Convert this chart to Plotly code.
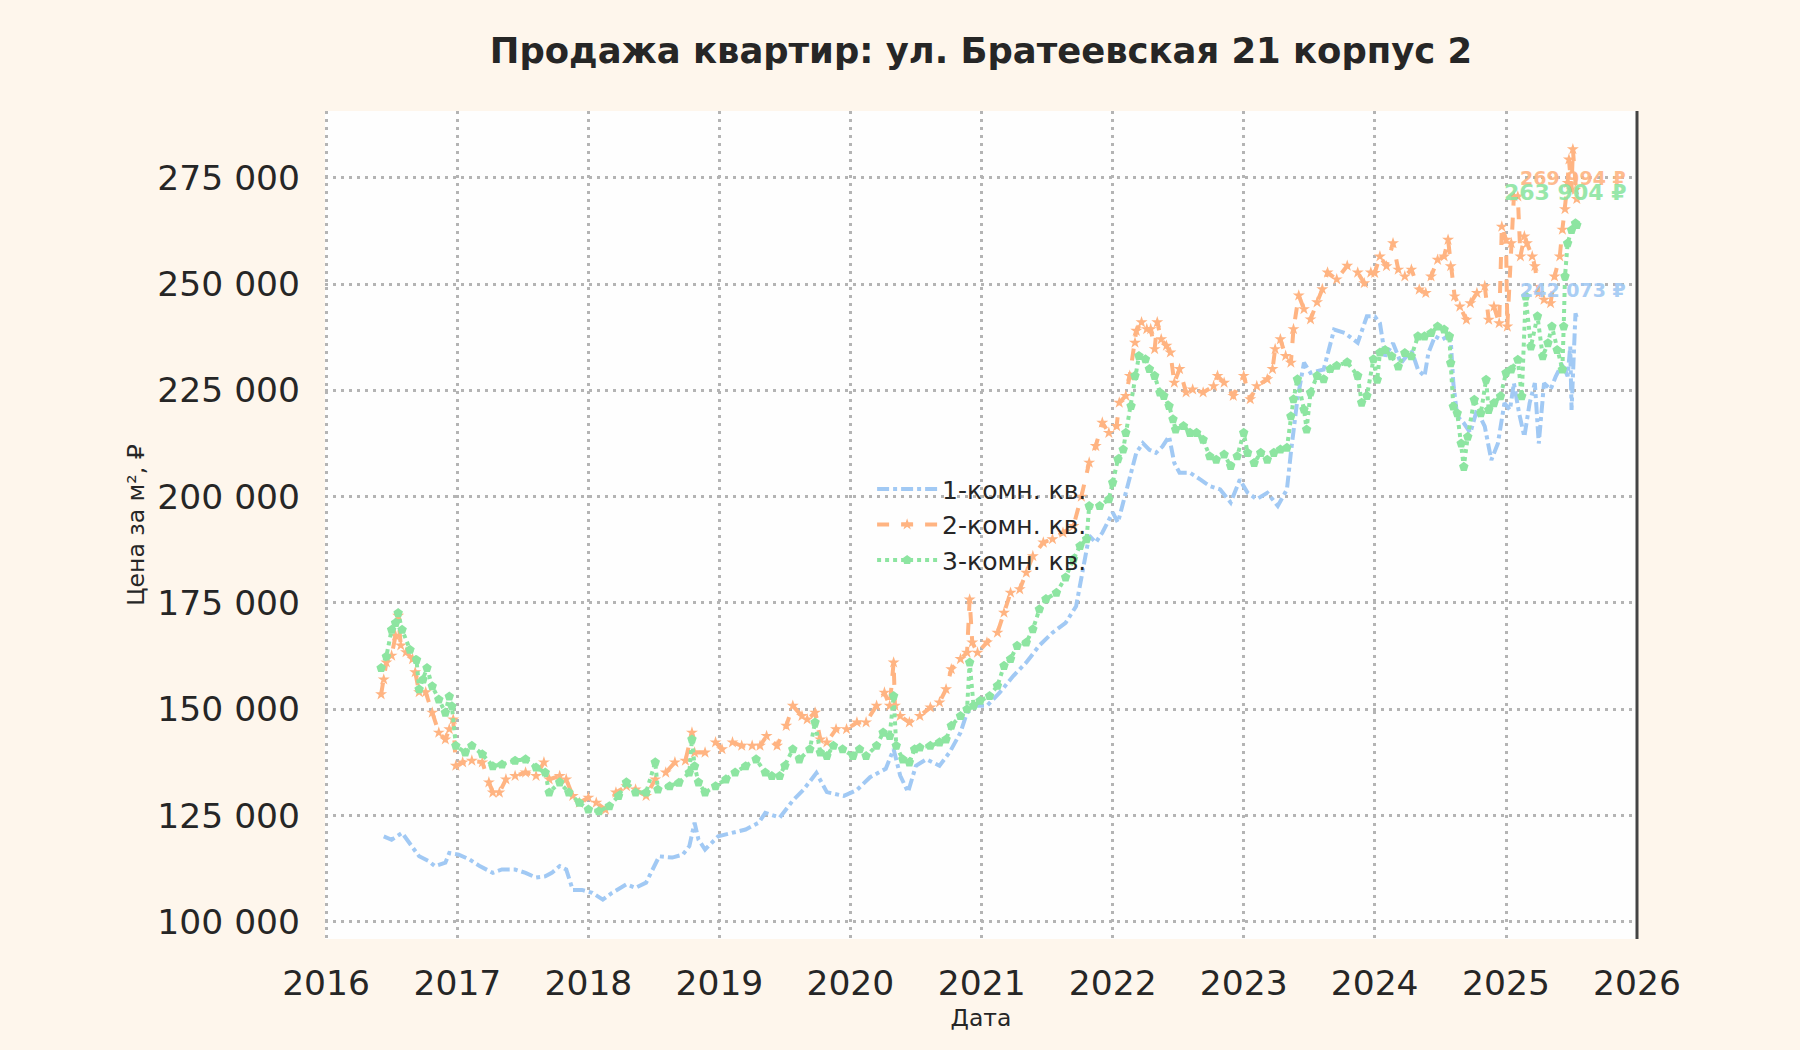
import pandas as pd
import plotly.graph_objects as go

# --- data (year as decimal, price in thousands of rubles) ---
years_1k = [2016.44, 2016.50, 2016.58, 2016.64, 2016.71, 2016.78, 2016.83, 2016.91, 2016.94, 2017.01,
            2017.09, 2017.17, 2017.27, 2017.34, 2017.44, 2017.52, 2017.60, 2017.67, 2017.72, 2017.78,
            2017.83, 2017.88, 2017.95, 2018.03, 2018.11, 2018.18, 2018.29, 2018.36, 2018.44, 2018.49,
            2018.54, 2018.64, 2018.72, 2018.77, 2018.81, 2018.84, 2018.89, 2018.99, 2019.10, 2019.20,
            2019.30, 2019.35, 2019.46, 2019.56, 2019.64, 2019.74, 2019.82, 2019.95, 2020.05, 2020.15,
            2020.27, 2020.33, 2020.38, 2020.44, 2020.50, 2020.58, 2020.68, 2020.76, 2020.84, 2020.89,
            2020.96, 2021.04, 2021.14, 2021.24, 2021.34, 2021.44, 2021.54, 2021.64, 2021.72, 2021.77,
            2021.82, 2021.87, 2021.92, 2022.00, 2022.04, 2022.08, 2022.13, 2022.18, 2022.23, 2022.28,
            2022.33, 2022.38, 2022.43, 2022.47, 2022.51, 2022.59, 2022.67, 2022.74, 2022.82, 2022.90,
            2022.97, 2023.03, 2023.10, 2023.18, 2023.26, 2023.33, 2023.36, 2023.41, 2023.46, 2023.51,
            2023.61, 2023.69, 2023.77, 2023.87, 2023.94, 2024.00, 2024.04, 2024.08, 2024.14, 2024.20,
            2024.28, 2024.33, 2024.38, 2024.41, 2024.46, 2024.51, 2024.56, 2024.58, 2024.60, 2024.63,
            2024.68, 2024.73, 2024.78, 2024.84, 2024.89, 2024.94, 2024.99, 2025.03, 2025.06, 2025.10,
            2025.14, 2025.18, 2025.22, 2025.25, 2025.29, 2025.34, 2025.38, 2025.43, 2025.47, 2025.49,
            2025.50, 2025.53, 2025.54]
price_1k = [120.1, 119.3, 120.9, 118.5, 115.4, 114.3, 113.1, 113.9, 116.2, 115.8,
            114.7, 113.1, 111.5, 112.3, 112.3, 111.5, 110.4, 110.7, 111.5, 113.1,
            112.3, 107.5, 107.5, 106.8, 105.2, 106.8, 108.8, 108.0, 109.2, 112.3,
            115.4, 115.1, 115.8, 117.8, 123.3, 119.3, 117.0, 120.1, 120.9, 121.7,
            123.3, 125.6, 124.5, 128.5, 131.0, 135.0, 130.5, 129.6, 131.0, 134.0,
            136.0, 140.6, 134.4, 130.5, 136.7, 138.2, 136.7, 140.0, 144.5, 149.2,
            150.8, 150.8, 154.0, 157.8, 161.0, 165.0, 168.0, 170.3, 174.2, 182.9,
            190.8, 189.2, 191.5, 196.3, 193.9, 198.6, 204.8, 210.3, 212.6, 211.0,
            210.3, 211.8, 214.2, 207.9, 205.6, 205.6, 204.0, 202.5, 201.7, 198.6,
            204.0, 200.9, 199.4, 200.9, 197.8, 201.7, 210.3, 222.9, 231.5, 229.1,
            229.9, 239.3, 238.5, 236.2, 242.4, 242.4, 240.8, 233.0, 236.1, 231.4,
            234.5, 229.9, 228.3, 233.8, 237.7, 236.9, 237.7, 236.9, 226.7, 218.9,
            217.3, 215.0, 220.4, 216.5, 208.6, 212.5, 222.0, 220.4, 226.7, 219.6,
            214.1, 222.0, 226.7, 212.5, 226.7, 225.2, 228.3, 231.4, 228.3, 235.3,
            220.4, 243.1, 242.1]

years_2k = [2016.42, 2016.44, 2016.46, 2016.50, 2016.53, 2016.55, 2016.57, 2016.61, 2016.66, 2016.68,
            2016.71, 2016.76, 2016.81, 2016.86, 2016.91, 2016.94, 2016.97, 2016.99, 2017.04, 2017.11,
            2017.19, 2017.24, 2017.27, 2017.32, 2017.37, 2017.44, 2017.52, 2017.60, 2017.66, 2017.70,
            2017.78, 2017.83, 2017.88, 2017.93, 2018.00, 2018.06, 2018.13, 2018.21, 2018.29, 2018.36,
            2018.44, 2018.51, 2018.59, 2018.66, 2018.74, 2018.79, 2018.81, 2018.89, 2018.97, 2019.02,
            2019.10, 2019.17, 2019.25, 2019.31, 2019.36, 2019.44, 2019.51, 2019.56, 2019.63, 2019.67,
            2019.73, 2019.77, 2019.82, 2019.89, 2019.97, 2020.05, 2020.12, 2020.20, 2020.26, 2020.30,
            2020.33, 2020.34, 2020.38, 2020.45, 2020.53, 2020.61, 2020.68, 2020.73, 2020.77, 2020.84,
            2020.89, 2020.91, 2020.93, 2020.97, 2021.04, 2021.12, 2021.17, 2021.22, 2021.29, 2021.34,
            2021.39, 2021.47, 2021.54, 2021.62, 2021.70, 2021.76, 2021.82, 2021.87, 2021.92, 2021.97,
            2022.03, 2022.05, 2022.10, 2022.13, 2022.17, 2022.18, 2022.22, 2022.26, 2022.29, 2022.32,
            2022.34, 2022.37, 2022.41, 2022.44, 2022.47, 2022.51, 2022.56, 2022.61, 2022.69, 2022.77,
            2022.80, 2022.85, 2022.92, 2023.00, 2023.05, 2023.10, 2023.18, 2023.22, 2023.24, 2023.28,
            2023.32, 2023.36, 2023.38, 2023.42, 2023.46, 2023.51, 2023.56, 2023.60, 2023.64, 2023.71,
            2023.79, 2023.87, 2023.92, 2023.97, 2024.00, 2024.04, 2024.09, 2024.14, 2024.18, 2024.23,
            2024.28, 2024.34, 2024.39, 2024.43, 2024.48, 2024.53, 2024.56, 2024.58, 2024.61, 2024.65,
            2024.70, 2024.73, 2024.78, 2024.84, 2024.87, 2024.91, 2024.95, 2024.97, 2025.00, 2025.01,
            2025.04, 2025.06, 2025.09, 2025.11, 2025.14, 2025.16, 2025.20, 2025.22, 2025.25, 2025.29,
            2025.34, 2025.37, 2025.41, 2025.43, 2025.45, 2025.47, 2025.48, 2025.50, 2025.51, 2025.53,
            2025.54]
price_2k = [153.5, 157.0, 161.0, 162.6, 167.3, 172.0, 165.0, 163.4, 161.8, 158.7,
            154.0, 154.0, 149.2, 144.5, 142.9, 145.3, 147.6, 136.7, 137.5, 137.9,
            137.5, 132.8, 130.4, 130.4, 133.5, 134.3, 135.1, 134.3, 137.5, 133.5,
            134.3, 133.5, 129.6, 128.0, 129.2, 128.0, 126.4, 130.4, 131.9, 131.1,
            129.6, 133.5, 135.1, 137.5, 137.9, 144.5, 139.8, 139.8, 142.2, 140.6,
            142.2, 141.4, 141.4, 141.4, 143.7, 141.4, 146.1, 150.8, 148.4, 147.6,
            149.2, 142.9, 142.2, 145.3, 145.3, 146.9, 146.9, 150.8, 153.9, 150.8,
            161.0, 150.8, 148.4, 146.9, 148.4, 150.4, 151.6, 154.7, 159.4, 161.8,
            163.3, 175.8, 165.7, 163.3, 165.7, 168.0, 172.7, 177.4, 178.2, 182.1,
            186.0, 189.2, 190.0, 191.5, 193.1, 200.0, 208.0, 211.9, 217.4, 215.0,
            216.6, 222.1, 223.7, 228.4, 236.2, 239.0, 241.0, 239.4, 239.4, 234.7,
            241.0, 237.0, 235.5, 233.9, 226.8, 230.0, 224.5, 225.2, 224.5, 226.0,
            228.4, 226.8, 223.7, 228.4, 222.9, 226.0, 227.6, 230.0, 234.7, 237.0,
            233.1, 231.5, 239.4, 247.3, 244.1, 241.7, 245.7, 248.8, 252.7, 251.1,
            254.3, 252.7, 250.2, 252.7, 252.6, 256.5, 254.2, 259.6, 253.4, 251.8,
            253.4, 248.7, 247.9, 251.8, 255.7, 256.5, 260.4, 254.2, 247.1, 244.7,
            241.6, 245.5, 247.9, 249.5, 241.6, 244.7, 240.8, 263.5, 260.4, 240.0,
            259.6, 270.6, 270.6, 256.5, 261.2, 259.6, 256.5, 254.2, 247.9, 246.3,
            245.5, 251.8, 256.5, 262.8, 267.6, 273.8, 279.3, 272.2, 281.7, 272.2,
            270.0]

years_3k = [2016.42, 2016.46, 2016.50, 2016.53, 2016.55, 2016.58, 2016.64, 2016.69, 2016.71, 2016.74,
            2016.77, 2016.81, 2016.86, 2016.91, 2016.94, 2016.96, 2016.99, 2017.06, 2017.11, 2017.19,
            2017.27, 2017.34, 2017.44, 2017.52, 2017.60, 2017.67, 2017.70, 2017.78, 2017.85, 2017.93,
            2018.00, 2018.08, 2018.16, 2018.23, 2018.29, 2018.36, 2018.44, 2018.51, 2018.53, 2018.62,
            2018.69, 2018.77, 2018.79, 2018.81, 2018.84, 2018.89, 2018.97, 2019.05, 2019.12, 2019.20,
            2019.28, 2019.35, 2019.40, 2019.46, 2019.50, 2019.56, 2019.61, 2019.69, 2019.73, 2019.77,
            2019.82, 2019.87, 2019.94, 2020.02, 2020.07, 2020.12, 2020.20, 2020.25, 2020.30, 2020.33,
            2020.35, 2020.40, 2020.45, 2020.49, 2020.53, 2020.61, 2020.68, 2020.73, 2020.77, 2020.84,
            2020.89, 2020.91, 2020.94, 2020.99, 2021.06, 2021.12, 2021.17, 2021.22, 2021.27, 2021.34,
            2021.39, 2021.44, 2021.49, 2021.57, 2021.64, 2021.70, 2021.75, 2021.80, 2021.82, 2021.90,
            2021.97, 2022.00, 2022.04, 2022.08, 2022.10, 2022.14, 2022.17, 2022.20, 2022.25, 2022.28,
            2022.32, 2022.36, 2022.39, 2022.43, 2022.46, 2022.48, 2022.54, 2022.59, 2022.64, 2022.69,
            2022.74, 2022.79, 2022.85, 2022.90, 2022.95, 2023.00, 2023.03, 2023.08, 2023.13, 2023.18,
            2023.23, 2023.28, 2023.33, 2023.36, 2023.38, 2023.41, 2023.46, 2023.48, 2023.51, 2023.56,
            2023.61, 2023.66, 2023.71, 2023.79, 2023.87, 2023.90, 2023.94, 2023.99, 2024.02, 2024.04,
            2024.08, 2024.13, 2024.18, 2024.23, 2024.28, 2024.33, 2024.38, 2024.43, 2024.48, 2024.53,
            2024.57, 2024.58, 2024.60, 2024.63, 2024.66, 2024.68, 2024.71, 2024.76, 2024.81, 2024.85,
            2024.87, 2024.91, 2024.96, 2025.00, 2025.04, 2025.09, 2025.12, 2025.15, 2025.19, 2025.24,
            2025.28, 2025.32, 2025.35, 2025.39, 2025.43, 2025.44, 2025.45, 2025.47, 2025.50, 2025.53,
            2025.54]
price_3k = [159.7, 162.4, 168.7, 170.3, 172.6, 168.7, 164.0, 161.6, 154.7, 157.0,
            159.7, 155.4, 152.3, 149.2, 153.0, 150.7, 141.4, 139.8, 141.4, 139.4,
            136.6, 137.0, 137.9, 138.2, 136.3, 135.1, 130.4, 132.8, 130.4, 128.0,
            126.4, 126.0, 127.2, 129.6, 132.8, 130.4, 130.4, 137.5, 131.1, 131.9,
            132.7, 135.1, 142.9, 136.6, 132.8, 130.4, 131.9, 133.5, 135.1, 136.6,
            138.2, 135.1, 134.3, 134.3, 136.7, 140.6, 138.2, 140.6, 146.9, 139.8,
            139.0, 141.4, 140.6, 139.0, 140.6, 139.0, 141.4, 144.5, 143.7, 153.1,
            141.4, 138.2, 137.5, 140.6, 141.0, 141.4, 142.2, 142.9, 146.1, 148.4,
            150.0, 161.0, 150.8, 152.0, 153.1, 155.5, 160.2, 161.8, 164.9, 165.7,
            168.8, 173.5, 175.9, 177.4, 181.0, 185.3, 188.4, 190.0, 197.8, 197.8,
            199.4, 203.3, 208.8, 211.1, 215.0, 221.3, 228.4, 233.1, 232.3, 230.0,
            228.4, 224.5, 223.7, 221.3, 218.2, 215.8, 216.6, 215.0, 215.0, 213.4,
            209.5, 208.7, 209.9, 207.2, 209.5, 215.0, 210.3, 207.9, 210.3, 208.7,
            210.3, 211.1, 211.5, 218.9, 222.9, 227.6, 220.5, 215.8, 224.5, 228.4,
            227.6, 230.0, 230.8, 231.6, 228.4, 222.1, 223.7, 232.3, 227.5, 233.9,
            234.5, 233.0, 230.6, 233.8, 233.0, 237.7, 237.7, 238.5, 240.0, 239.3,
            237.7, 231.4, 221.2, 219.6, 212.5, 207.0, 214.1, 222.8, 219.6, 227.5,
            220.4, 222.0, 223.6, 229.1, 229.9, 232.2, 223.6, 247.1, 235.3, 242.4,
            233.0, 236.1, 240.0, 234.5, 229.9, 240.0, 251.8, 259.6, 262.7, 264.3,
            263.9]

series_names = ["1-комн. кв.", "2-комн. кв.", "3-комн. кв."]
last_labels = ["242 073 ₽", "269 994 ₽", "263 904 ₽"]
colors = ["#a1c9f4", "#ffb482", "#8de5a1"]


def to_dates(years):
    out = []
    for y in years:
        base = pd.Timestamp(int(y), 1, 1)
        out.append(base + pd.Timedelta(days=(y - int(y)) * 365.25))
    return out


fig = go.Figure()

fig.add_trace(go.Scatter(x=to_dates(years_1k), y=[v * 1000 for v in price_1k], name=series_names[0],
                         mode="lines", line=dict(color=colors[0], width=4, dash="dashdot")))
fig.add_trace(go.Scatter(x=to_dates(years_2k), y=[v * 1000 for v in price_2k], name=series_names[1],
                         mode="lines+markers", line=dict(color=colors[1], width=4, dash="dash"),
                         marker=dict(symbol="star", size=9, color=colors[1])))
fig.add_trace(go.Scatter(x=to_dates(years_3k), y=[v * 1000 for v in price_3k], name=series_names[2],
                         mode="lines+markers", line=dict(color=colors[2], width=4, dash="dot"),
                         marker=dict(symbol="pentagon", size=10, color=colors[2])))

# value labels at the right edge
label_y = [248700, 275000, 271500]
label_size = [19, 19, 22]
for txt, c, yy, sz in zip(last_labels, colors, label_y, label_size):
    fig.add_annotation(x=0.993, xref="x domain", y=yy, yref="y", text="<b>%s</b>" % txt,
                       showarrow=False, xanchor="right", yanchor="middle",
                       font=dict(size=sz, color=c), opacity=0.9)

# dark right spine
fig.add_shape(type="line", xref="x domain", yref="y domain", x0=1, x1=1, y0=0, y1=1,
              line=dict(color="#444444", width=3))

grid = dict(showgrid=True, gridcolor="#b4b4b4", griddash="3px,5px", gridwidth=2.5, zeroline=False,
            showline=False, ticks="", tickfont=dict(size=34.5, color="#262626"))

fig.update_layout(
    width=1800, height=1050,
    paper_bgcolor="#fef6ec", plot_bgcolor="#fefefe",
    font=dict(family="DejaVu Sans", color="#262626"),
    separators=", ",
    title=dict(text="<b>Продажа квартир: ул. Братеевская 21 корпус 2</b>", xref="paper", x=0.5,
               xanchor="center", y=0.952, yanchor="middle", font=dict(size=35.4, color="#262626")),
    margin=dict(l=325, r=163, t=111, b=111),
    legend=dict(x=0.417, y=0.571, xanchor="left", yanchor="top", bgcolor="rgba(0,0,0,0)",
                font=dict(size=25, color="#262626"), itemwidth=60),
    showlegend=True,
)
fig.update_xaxes(grid, range=["2015-12-29", "2026-01-01"], dtick="M12", tickformat="%Y",
                 ticklabelstandoff=20,
                 title=dict(text="Дата", font=dict(size=23.5), standoff=8))
fig.update_yaxes(grid, range=[95950, 290700], dtick=25000, tickformat=",d",
                 ticklabelstandoff=24,
                 title=dict(text="Цена за м², ₽", font=dict(size=23.5), standoff=6))

fig.write_html("out.html", config={"displayModeBar": False},
               post_script="document.body.style.margin='0';document.body.style.background='#fef6ec';")
